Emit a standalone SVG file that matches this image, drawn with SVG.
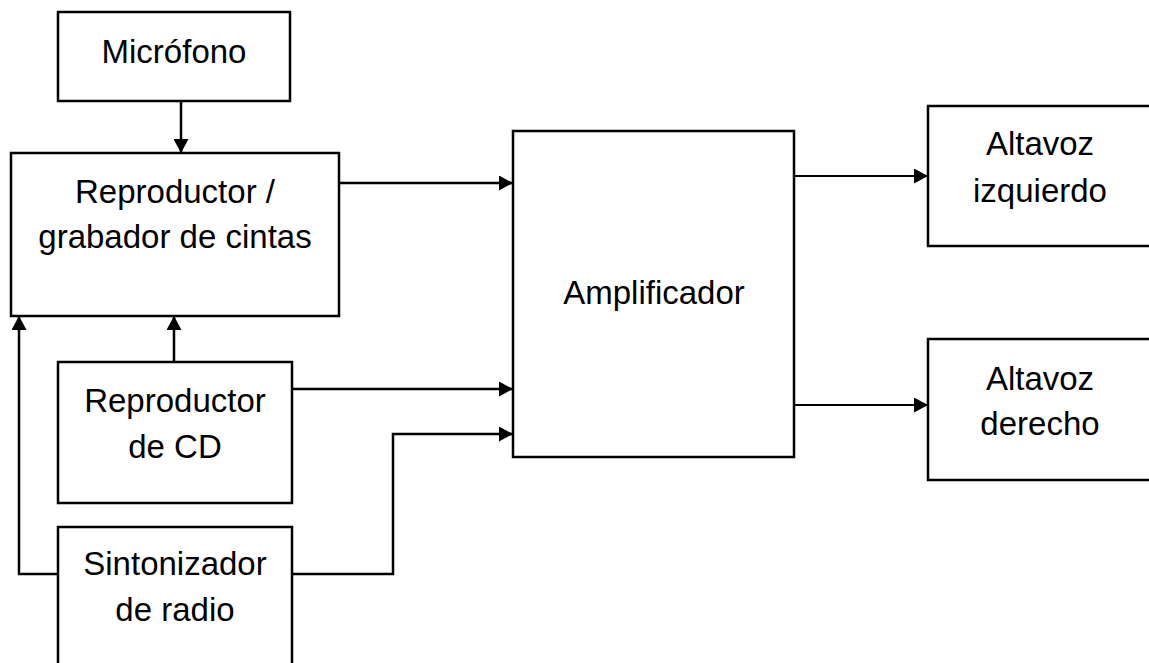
<svg xmlns="http://www.w3.org/2000/svg" width="1149" height="663" viewBox="0 0 1149 663">
<style>
.box{fill:#fff;stroke:#000;stroke-width:2.5}
.lbl{font-family:"Liberation Sans",Arial,sans-serif;font-size:33px;fill:#000;text-anchor:middle}
.con{fill:none;stroke:#000;stroke-width:2.5}
.thin{stroke-width:2}
</style>
<defs>
<marker id="ah" markerUnits="userSpaceOnUse" markerWidth="15" markerHeight="15" refX="14" refY="7.5" orient="auto">
<path d="M0,0 L14,7.5 L0,15 z" fill="#000"/>
</marker>
</defs>
<rect width="1149" height="663" fill="#fff"/>
<g id="connectors">
<line class="con" x1="181" y1="101" x2="181" y2="153" marker-end="url(#ah)"/>
<line class="con" x1="339" y1="183" x2="513" y2="183" marker-end="url(#ah)"/>
<line class="con" x1="174" y1="362" x2="174" y2="316" marker-end="url(#ah)"/>
<line class="con" x1="292" y1="389" x2="513" y2="389" marker-end="url(#ah)"/>
<polyline class="con" points="292,574 393,574 393,434 513,434" marker-end="url(#ah)"/>
<polyline class="con" points="58,574 19,574 19,316" marker-end="url(#ah)"/>
<line class="con thin" x1="794" y1="176" x2="928" y2="176" marker-end="url(#ah)"/>
<line class="con thin" x1="794" y1="405" x2="928" y2="405" marker-end="url(#ah)"/>
</g>
<g id="microfono">
<rect class="box" x="58" y="12" width="232" height="89"/>
<text class="lbl" x="174" y="63">Micrófono</text>
</g>
<g id="reproductor-grabador">
<rect class="box" x="11" y="153" width="328" height="163"/>
<text class="lbl" x="175" y="203">Reproductor /</text>
<text class="lbl" x="175" y="248">grabador de cintas</text>
</g>
<g id="reproductor-cd">
<rect class="box" x="58" y="362" width="234" height="141"/>
<text class="lbl" x="175" y="412">Reproductor</text>
<text class="lbl" x="175" y="458">de CD</text>
</g>
<g id="sintonizador">
<rect class="box" x="58" y="527" width="234" height="150"/>
<text class="lbl" x="175" y="575">Sintonizador</text>
<text class="lbl" x="175" y="621">de radio</text>
</g>
<g id="amplificador">
<rect class="box" x="513" y="131" width="281" height="326"/>
<text class="lbl" x="654" y="304">Amplificador</text>
</g>
<g id="altavoz-izquierdo">
<rect class="box" x="928" y="106" width="230" height="140"/>
<text class="lbl" x="1040" y="155">Altavoz</text>
<text class="lbl" x="1040" y="202">izquierdo</text>
</g>
<g id="altavoz-derecho">
<rect class="box" x="928" y="339" width="230" height="141"/>
<text class="lbl" x="1040" y="390">Altavoz</text>
<text class="lbl" x="1040" y="435">derecho</text>
</g>
</svg>
